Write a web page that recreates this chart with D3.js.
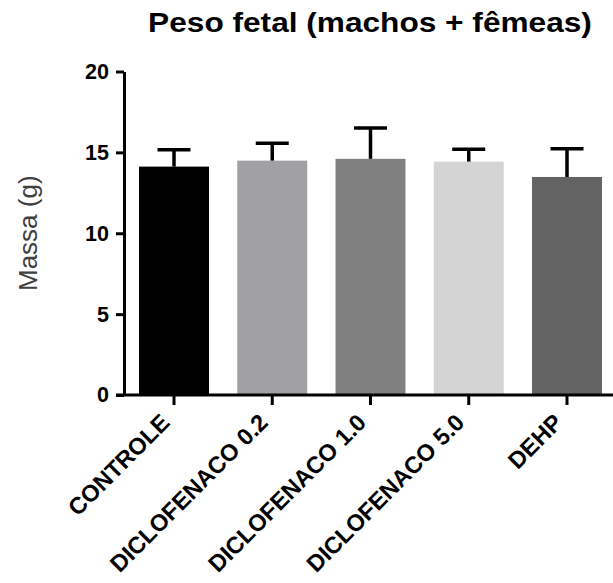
<!DOCTYPE html>
<html>
<head>
<meta charset="utf-8">
<script src="https://cdn.jsdelivr.net/npm/d3@7"></script>
<style>
  body { margin: 0; background: #fff; }
  svg text { font-family: "Liberation Sans", Arial, sans-serif; }
</style>
</head>
<body>
<svg id="chart" width="613" height="583"></svg>
<script>
// data
const groups = ["CONTROLE", "DICLOFENACO 0.2", "DICLOFENACO 1.0", "DICLOFENACO 5.0", "DEHP"];
const means = [14.12, 14.49, 14.6, 14.43, 13.48];
const sems = [1.05, 1.07, 1.91, 0.76, 1.75];
const yTicks = [0, 5, 10, 15, 20];
const barColors = ["#000000", "#a1a0a4", "#808080", "#d4d4d4", "#636363"];

const svg = d3.select("#chart");
const plotTop = 71.5, plotBottom = 395, plotLeft = 124, plotRight = 617;

const y = d3.scaleLinear().domain([0, 20]).range([plotBottom, plotTop]);
const x = d3.scaleBand().domain(groups).range([plotLeft, plotRight])
            .paddingInner(0.288).paddingOuter(0.153);

// title (the original is a bit wider than the font, so stretch it)
svg.append("text")
   .attr("transform", "translate(370,32) scale(1.13,1)")
   .attr("text-anchor", "middle")
   .attr("font-size", 28).attr("font-weight", "bold")
   .text("Peso fetal (machos + fêmeas)");

// y label
svg.append("text")
   .attr("transform", `translate(37,${(plotTop + plotBottom) / 2}) rotate(-90)`)
   .attr("text-anchor", "middle")
   .attr("font-size", 26).attr("fill", "#404040")
   .text("Massa (g)");

// bars
svg.selectAll(".bar")
   .data(groups)
   .enter()
   .append("rect")
   .attr("class", "bar")
   .attr("x", d => x(d))
   .attr("width", x.bandwidth())
   .attr("y", (d, i) => y(means[i]))
   .attr("height", (d, i) => plotBottom - y(means[i]))
   .attr("fill", (d, i) => barColors[i]);

// error bars (upper only)
const err = svg.append("g").attr("stroke", "#000").attr("stroke-width", 3.5);
groups.forEach((g, i) => {
    const cx = x(g) + x.bandwidth() / 2;
    err.append("line")
       .attr("x1", cx).attr("x2", cx)
       .attr("y1", y(means[i])).attr("y2", y(means[i] + sems[i]));
    err.append("line")
       .attr("x1", cx - 16.5).attr("x2", cx + 16.5)
       .attr("y1", y(means[i] + sems[i])).attr("y2", y(means[i] + sems[i]));
});

// y axis
const yAxis = svg.append("g")
   .attr("transform", `translate(${plotLeft},0)`)
   .call(d3.axisLeft(y).tickValues(yTicks).tickSize(8).tickPadding(7).tickSizeOuter(0));
yAxis.select(".domain").attr("stroke-width", 3);
yAxis.selectAll(".tick line").attr("stroke-width", 3);
yAxis.selectAll(".tick text")
   .attr("font-size", 21.5).attr("font-weight", "bold")
   .attr("font-family", "Liberation Sans, Arial, sans-serif");

// x axis
const xAxis = svg.append("g")
   .attr("transform", `translate(0,${plotBottom})`)
   .call(d3.axisBottom(x).tickSize(10).tickSizeOuter(0));
xAxis.select(".domain").remove();
xAxis.append("line")
   .attr("x1", plotLeft - 8).attr("x2", 613)
   .attr("stroke", "#000").attr("stroke-width", 3);
xAxis.selectAll(".tick line").attr("stroke-width", 3);
xAxis.selectAll(".tick text")
   .attr("font-size", 23.5).attr("font-weight", "bold")
   .attr("font-family", "Liberation Sans, Arial, sans-serif")
   .attr("text-anchor", "end")
   .attr("x", 0).attr("y", 0).attr("dy", 0)
   .attr("transform", "translate(-3,29) rotate(-45)");
</script>
</body>
</html>
